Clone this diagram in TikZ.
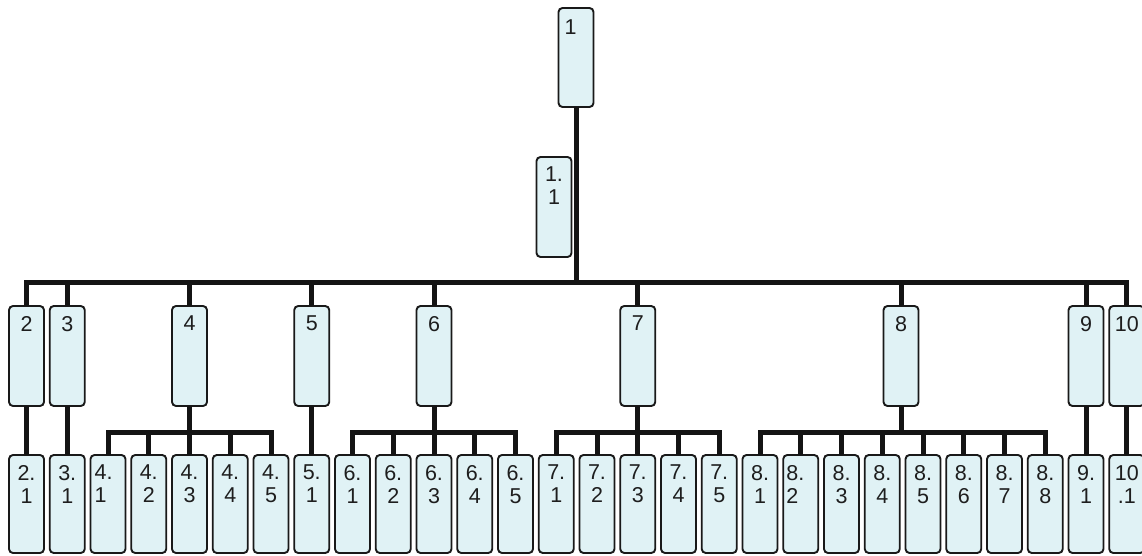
\documentclass[tikz,border=0pt]{standalone}
\usepackage{fontspec}
\setmainfont{Liberation Sans}
\definecolor{boxfill}{RGB}{224,242,245}
\definecolor{boxline}{RGB}{25,25,25}
\definecolor{txt}{RGB}{30,30,30}
\tikzset{
  box/.style={draw=boxline, line width=1.9pt, fill=boxfill, rounded corners=4pt,
    minimum width=35pt, inner sep=0pt, outer sep=0pt, anchor=north},
  tall/.style={box, minimum height=100pt},
  leaf/.style={box, minimum height=98pt},
  lbl/.style={anchor=north, inner sep=0pt, yshift=-10pt,
    font=\fontsize{21.5}{23}\selectfont, align=center, text=txt},
  lbll/.style={lbl, anchor=north west, xshift=4pt, align=left},
  conn/.style={line width=5pt, draw=black!92, line join=miter}
}
\begin{document}
\begin{tikzpicture}[x=1pt, y=-1pt, declare function={col(\i)=26.5+40.75*\i;}]
\useasboundingbox (0,0) rectangle (1142,556);

% root and its side note
\node[tall, minimum height=99pt, label={[lbll, xshift=2pt, yshift=-2pt]north west:1}] (n1) at (576,8) {};
\node[tall, label={[lbl]north:{1.\\1}}] (n11) at (554,157) {};

% second level
\node[tall, label={[lbl]north:2}]  (n2)  at ({col(0)},306) {};
\node[tall, label={[lbl]north:3}]  (n3)  at ({col(1)},306) {};
\node[tall, label={[lbl]north:4}]  (n4)  at ({col(4)},306) {};
\node[tall, label={[lbl]north:5}]  (n5)  at ({col(7)},306) {};
\node[tall, label={[lbl]north:6}]  (n6)  at ({col(10)},306) {};
\node[tall, label={[lbl]north:7}]  (n7)  at ({col(15)},306) {};
\node[tall, label={[lbl]north:8}]  (n8)  at (901,306) {};
\node[tall, label={[lbl]north:9}]  (n9)  at ({col(26)},306) {};
\node[tall, label={[lbl]north:10}] (n10) at ({col(27)},306) {};

% leaves
\node[leaf, label={[lbl]north:{2.\\1}}]  (n21) at ({col(0)},455) {};
\node[leaf, label={[lbl]north:{3.\\1}}]  (n31) at ({col(1)},455) {};
\node[leaf, label={[lbll]north west:{4.\\1}}] (n41) at ({col(2)},455) {};
\node[leaf, label={[lbl]north:{4.\\2}}]  (n42) at ({col(3)},455) {};
\node[leaf, label={[lbl]north:{4.\\3}}]  (n43) at ({col(4)},455) {};
\node[leaf, label={[lbl]north:{4.\\4}}]  (n44) at ({col(5)},455) {};
\node[leaf, label={[lbl]north:{4.\\5}}]  (n45) at ({col(6)},455) {};
\node[leaf, label={[lbl]north:{5.\\1}}]  (n51) at ({col(7)},455) {};
\node[leaf, label={[lbl]north:{6.\\1}}]  (n61) at ({col(8)},455) {};
\node[leaf, label={[lbl]north:{6.\\2}}]  (n62) at ({col(9)},455) {};
\node[leaf, label={[lbl]north:{6.\\3}}]  (n63) at ({col(10)},455) {};
\node[leaf, label={[lbl]north:{6.\\4}}]  (n64) at ({col(11)},455) {};
\node[leaf, label={[lbl]north:{6.\\5}}]  (n65) at ({col(12)},455) {};
\node[leaf, label={[lbl]north:{7.\\1}}]  (n71) at ({col(13)},455) {};
\node[leaf, label={[lbl]north:{7.\\2}}]  (n72) at ({col(14)},455) {};
\node[leaf, label={[lbl]north:{7.\\3}}]  (n73) at ({col(15)},455) {};
\node[leaf, label={[lbl]north:{7.\\4}}]  (n74) at ({col(16)},455) {};
\node[leaf, label={[lbl]north:{7.\\5}}]  (n75) at ({col(17)},455) {};
\node[leaf, label={[lbl]north:{8.\\1}}]  (n81) at ({col(18)},455) {};
\node[leaf, label={[lbll, xshift=-1pt]north west:{8.\\2}}] (n82) at ({col(19)},455) {};
\node[leaf, label={[lbl]north:{8.\\3}}]  (n83) at ({col(20)},455) {};
\node[leaf, label={[lbl]north:{8.\\4}}]  (n84) at ({col(21)},455) {};
\node[leaf, label={[lbl]north:{8.\\5}}]  (n85) at ({col(22)},455) {};
\node[leaf, label={[lbl]north:{8.\\6}}]  (n86) at ({col(23)},455) {};
\node[leaf, label={[lbl]north:{8.\\7}}]  (n87) at ({col(24)},455) {};
\node[leaf, label={[lbl]north:{8.\\8}}]  (n88) at ({col(25)},455) {};
\node[leaf, label={[lbl]north:{9.\\1}}]  (n91) at ({col(26)},455) {};
\node[leaf, label={[lbl]north:{10\\.1}}] (n101) at ({col(27)},455) {};

% bus levels
\coordinate (bus) at (576,282);
\coordinate (sub) at (0,432);

% root to second level
\draw[conn] (n1.south) -- (bus);
\draw[conn] (n2.north) -- (n2.north |- bus) -- (n10.north |- bus) -- (n10.north);
\foreach \n in {n3,n4,n5,n6,n7,n8,n9}
  \draw[conn] (\n.north |- bus) -- (\n.north);

% single children
\draw[conn] (n2.south) -- (n21.north);
\draw[conn] (n3.south) -- (n31.north);
\draw[conn] (n5.south) -- (n51.north);
\draw[conn] (n9.south) -- (n91.north);
\draw[conn] (n10.south) -- (n101.north);

% groups with a shared bar
\foreach \p/\a/\b/\mid in {n4/n41/n45/{n42,n43,n44},
                         n6/n61/n65/{n62,n63,n64},
                         n7/n71/n75/{n72,n73,n74},
                         n8/n81/n88/{n82,n83,n84,n85,n86,n87}} {
  \draw[conn] (\p.south) -- (\p.south |- sub);
  \draw[conn] (\a.north) -- (\a.north |- sub) -- (\b.north |- sub) -- (\b.north);
  \foreach \m in \mid
    \draw[conn] (\m.north |- sub) -- (\m.north);
}
\end{tikzpicture}
\end{document}
